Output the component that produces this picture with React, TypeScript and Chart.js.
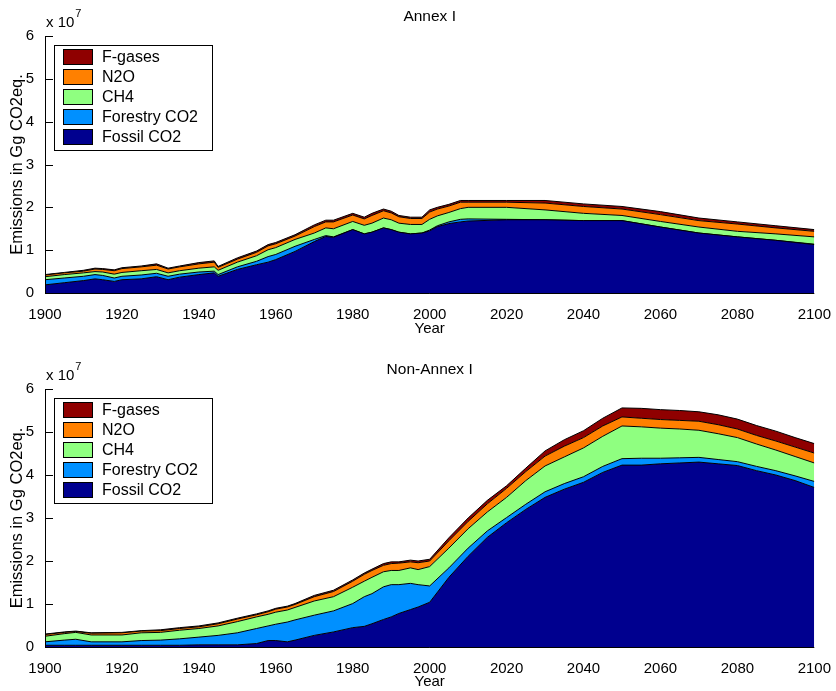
import React, { useEffect, useRef } from "react";
import { Chart, registerables } from "chart.js";

Chart.register(...registerables);

const FONT = '"Liberation Sans", Arial, Helvetica, sans-serif';
Chart.defaults.font.family = FONT;

// Values are given in units of 10^7 Gg CO2eq. (the axis multiplier)
const SCALE = 1e7;

const SERIES_LABELS = ["Fossil CO2", "Forestry CO2", "CH4", "N2O", "F-gases"];
const SERIES_COLORS = ["#00008F", "#0090FF", "#8FFF80", "#FF8000", "#8F0000"];

const X_TICKS = [1900, 1920, 1940, 1960, 1980, 2000, 2020, 2040, 2060, 2080, 2100];
const Y_TICKS = [0, 1, 2, 3, 4, 5, 6];

// ---- Annex I ----
const ANNEX_YEARS = [
  1900, 1905, 1910, 1913, 1915, 1918, 1920, 1925, 1929, 1932, 1935, 1940, 1944, 1945, 1950,
  1955, 1958, 1960, 1965, 1970, 1973, 1975, 1980, 1983, 1985, 1988, 1990, 1992, 1995, 1998,
  2000, 2002, 2005, 2008, 2010, 2020, 2030, 2040, 2050, 2060, 2070, 2080, 2090, 2100,
];
const ANNEX_FOSSIL = [
  0.19, 0.24, 0.29, 0.33, 0.31, 0.27, 0.31, 0.33, 0.38, 0.31, 0.37, 0.43, 0.47, 0.39, 0.55,
  0.66, 0.72, 0.78, 0.97, 1.2, 1.32, 1.3, 1.48, 1.38, 1.42, 1.52, 1.48, 1.42, 1.38, 1.4,
  1.45, 1.55, 1.62, 1.66, 1.68, 1.71, 1.71, 1.69, 1.69, 1.54, 1.4, 1.31, 1.23, 1.13,
];
const ANNEX_FORESTRY = [
  0.12, 0.11, 0.1, 0.1, 0.1, 0.08, 0.08, 0.09, 0.08, 0.08, 0.07, 0.06, 0.04, 0.04, 0.06,
  0.08, 0.13, 0.12, 0.12, 0.05, 0.02, 0.01, 0, 0, 0, 0, 0, 0, 0, 0,
  0.02, 0.02, 0.04, 0.06, 0.05, 0.01, 0, 0, 0, 0, 0, 0, 0, 0.01,
];
const ANNEX_CH4 = [
  0.07, 0.08, 0.08, 0.07, 0.08, 0.09, 0.09, 0.1, 0.09, 0.08, 0.08, 0.09, 0.1, 0.1, 0.11,
  0.13, 0.16, 0.16, 0.16, 0.15, 0.18, 0.19, 0.19, 0.2, 0.21, 0.23, 0.23, 0.21, 0.22, 0.2,
  0.25, 0.23, 0.22, 0.25, 0.27, 0.28, 0.23, 0.17, 0.12, 0.13, 0.14, 0.13, 0.15, 0.17,
];
const ANNEX_N2O = [
  0.04, 0.04, 0.04, 0.06, 0.06, 0.08, 0.09, 0.09, 0.1, 0.09, 0.09, 0.1, 0.11, 0.07, 0.07,
  0.08, 0.09, 0.09, 0.08, 0.15, 0.14, 0.16, 0.15, 0.15, 0.18, 0.17, 0.16, 0.15, 0.14, 0.14,
  0.17, 0.16, 0.15, 0.15, 0.12, 0.12, 0.16, 0.16, 0.15, 0.16, 0.15, 0.17, 0.14, 0.13,
];
const ANNEX_FGAS = [
  0.01, 0.01, 0.02, 0.02, 0.02, 0.02, 0.02, 0.02, 0.03, 0.02, 0.02, 0.03, 0.03, 0.02, 0.03,
  0.03, 0.03, 0.03, 0.03, 0.04, 0.04, 0.04, 0.04, 0.04, 0.05, 0.04, 0.04, 0.03, 0.03, 0.03,
  0.05, 0.04, 0.04, 0.04, 0.04, 0.04, 0.06, 0.06, 0.06, 0.07, 0.06, 0.05, 0.05, 0.04,
];

// ---- Non-Annex I ----
const NON_ANNEX_YEARS = [
  1900, 1905, 1908, 1912, 1920, 1925, 1930, 1935, 1940, 1945, 1950, 1955, 1958, 1960, 1963,
  1965, 1970, 1975, 1980, 1983, 1985, 1988, 1990, 1992, 1995, 1997, 2000, 2005, 2010, 2015,
  2020, 2025, 2030, 2035, 2040, 2045, 2050, 2055, 2060, 2065, 2070, 2075, 2080, 2085, 2090,
  2095, 2100,
];
const NON_ANNEX_FOSSIL = [
  0.04, 0.04, 0.04, 0.04, 0.04, 0.04, 0.04, 0.04, 0.05, 0.05, 0.05, 0.08, 0.15, 0.15, 0.12,
  0.16, 0.27, 0.35, 0.45, 0.48, 0.54, 0.64, 0.7, 0.78, 0.87, 0.93, 1.04, 1.62, 2.11, 2.55,
  2.89, 3.2, 3.48, 3.67, 3.83, 4.06, 4.23, 4.23, 4.26, 4.28, 4.3, 4.26, 4.22, 4.1, 4.0,
  3.87, 3.71,
];
const NON_ANNEX_FORESTRY = [
  0.08, 0.12, 0.14, 0.08, 0.08, 0.11, 0.12, 0.15, 0.18, 0.22, 0.28, 0.35, 0.34, 0.38, 0.46,
  0.47, 0.47, 0.49, 0.56, 0.69, 0.7, 0.76, 0.75, 0.67, 0.61, 0.52, 0.38, 0.22, 0.19, 0.15,
  0.12, 0.12, 0.13, 0.13, 0.13, 0.14, 0.15, 0.16, 0.13, 0.12, 0.11, 0.1, 0.09, 0.1, 0.1,
  0.11, 0.14,
];
const NON_ANNEX_CH4 = [
  0.13, 0.15, 0.16, 0.16, 0.16, 0.18, 0.18, 0.2, 0.2, 0.22, 0.26, 0.27, 0.27, 0.28, 0.28,
  0.29, 0.33, 0.33, 0.38, 0.36, 0.38, 0.35, 0.33, 0.33, 0.36, 0.35, 0.45, 0.46, 0.45, 0.44,
  0.47, 0.55, 0.6, 0.62, 0.67, 0.7, 0.76, 0.73, 0.7, 0.67, 0.63, 0.6, 0.56, 0.52, 0.48,
  0.45, 0.43,
];
const NON_ANNEX_N2O = [
  0.04, 0.03, 0.02, 0.04, 0.05, 0.04, 0.04, 0.04, 0.04, 0.05, 0.06, 0.05, 0.06, 0.07, 0.07,
  0.07, 0.1, 0.12, 0.14, 0.16, 0.16, 0.15, 0.16, 0.17, 0.14, 0.16, 0.13, 0.17, 0.17, 0.19,
  0.21, 0.21, 0.23, 0.25, 0.24, 0.24, 0.21, 0.2, 0.2, 0.2, 0.21, 0.21, 0.2, 0.2, 0.21,
  0.22, 0.23,
];
const NON_ANNEX_FGAS = [
  0.01, 0.01, 0.01, 0.01, 0.01, 0.01, 0.02, 0.02, 0.02, 0.02, 0.02, 0.02, 0.02, 0.02, 0.02,
  0.02, 0.03, 0.03, 0.03, 0.03, 0.03, 0.04, 0.04, 0.03, 0.04, 0.04, 0.04, 0.07, 0.08, 0.08,
  0.06, 0.08, 0.12, 0.15, 0.16, 0.18, 0.21, 0.23, 0.23, 0.23, 0.22, 0.23, 0.23, 0.23, 0.23,
  0.22, 0.22,
];

const CANVAS_W = 836;

// Axis titles, multiplier, inward ticks, axis lines and the boxed legend.
const decorations = {
  id: "decorations",
  beforeDatasetsDraw(chart: any) {
    const { ctx, chartArea, scales } = chart;
    const y = scales.y;
    ctx.save();
    ctx.strokeStyle = "#000";
    ctx.lineWidth = 1;
    y.ticks.forEach((t: any) => {
      const py = Math.round(y.getPixelForValue(t.value)) + 0.5;
      ctx.beginPath();
      ctx.moveTo(chartArea.left, py);
      ctx.lineTo(chartArea.left + 8, py);
      ctx.stroke();
    });
    ctx.restore();
  },
  afterDatasetsDraw(chart: any) {
    const { ctx, chartArea } = chart;
    ctx.save();
    ctx.strokeStyle = "#000";
    ctx.lineWidth = 1;
    ctx.beginPath();
    ctx.moveTo(chartArea.left + 0.5, chartArea.top);
    ctx.lineTo(chartArea.left + 0.5, chartArea.bottom + 0.5);
    ctx.lineTo(chartArea.right, chartArea.bottom + 0.5);
    ctx.stroke();
    ctx.restore();
  },
  afterDraw(chart: any, _args: any, opts: any) {
    const { ctx, chartArea } = chart;
    const cx = (chartArea.left + chartArea.right) / 2;
    const cy = (chartArea.top + chartArea.bottom) / 2;
    ctx.save();
    ctx.fillStyle = "#000";
    ctx.textBaseline = "middle";

    // title
    ctx.font = `15.5px ${FONT}`;
    ctx.textAlign = "center";
    ctx.fillText(opts.title, cx, 17);

    // x label
    ctx.font = `15px ${FONT}`;
    ctx.fillText("Year", cx, 329);

    // multiplier
    ctx.textAlign = "left";
    ctx.font = `15px ${FONT}`;
    const mult = "x 10";
    ctx.fillText(mult, 46, 23);
    const mw = ctx.measureText(mult).width;
    ctx.font = `11px ${FONT}`;
    ctx.fillText("7", 46 + mw + 1, 14);

    // y label
    ctx.save();
    ctx.translate(17, cy);
    ctx.rotate(-Math.PI / 2);
    ctx.textAlign = "center";
    ctx.font = `16.5px ${FONT}`;
    ctx.fillText("Emissions in Gg CO2eq.", 0, 0);
    ctx.restore();

    // legend, top series first
    const bx = 54.5, by = 45.5, bw = 158, bh = 105;
    ctx.fillStyle = "#fff";
    ctx.fillRect(bx, by, bw, bh);
    ctx.strokeStyle = "#000";
    ctx.lineWidth = 1;
    ctx.strokeRect(bx, by, bw, bh);
    const ds = chart.data.datasets;
    ctx.font = `16px ${FONT}`;
    ctx.textAlign = "left";
    for (let k = 0; k < ds.length; k++) {
      const d = ds[ds.length - 1 - k];
      const top = 49.5 + 20 * k;
      ctx.fillStyle = d.backgroundColor;
      ctx.fillRect(63.5, top, 29, 15);
      ctx.strokeStyle = "#000";
      ctx.strokeRect(63.5, top, 29, 15);
      ctx.fillStyle = "#000";
      ctx.fillText(d.label, 102, top + 8);
    }
    ctx.restore();
  },
};

type PanelProps = {
  title: string;
  years: number[];
  series: number[][];
  top: number;
  height: number;
};

function Panel({ title, years, series, top, height }: PanelProps) {
  const ref = useRef<HTMLCanvasElement | null>(null);

  useEffect(() => {
    if (!ref.current) return;
    const datasets = series.map((values, i) => ({
      label: SERIES_LABELS[i],
      data: years.map((yr, j) => ({ x: yr, y: values[j] * SCALE })),
      backgroundColor: SERIES_COLORS[i],
      borderColor: "#000",
      borderWidth: 1,
      pointRadius: 0,
      tension: 0,
      fill: i === 0 ? "origin" : "-1",
    }));
    const chart = new Chart(ref.current, {
      type: "line",
      data: { datasets },
      plugins: [decorations],
      options: {
        responsive: false,
        animation: false,
        events: [],
        layout: { padding: { left: 0, right: 18, top: 36, bottom: 0 } },
        plugins: {
          legend: { display: false },
          tooltip: { enabled: false },
          decorations: { title },
        } as any,
        scales: {
          x: {
            type: "linear",
            min: 1900,
            max: 2100,
            grid: { display: false },
            border: { display: false },
            afterBuildTicks: (s: any) => {
              s.ticks = X_TICKS.map((v) => ({ value: v }));
            },
            afterFit: (s: any) => {
              s.height = 44;
            },
            ticks: {
              padding: 5,
              color: "#000",
              font: { size: 15 },
              maxRotation: 0,
              autoSkip: false,
              callback: (v: any) => String(v),
            },
          },
          y: {
            stacked: true,
            min: 0,
            max: 6 * SCALE,
            grid: { display: false },
            border: { display: false },
            afterBuildTicks: (s: any) => {
              s.ticks = Y_TICKS.map((v) => ({ value: v * SCALE }));
            },
            afterFit: (s: any) => {
              s.width = 45;
            },
            ticks: {
              padding: 3,
              color: "#000",
              font: { size: 15 },
              callback: (v: any) => String(Math.round(Number(v) / SCALE)),
            },
          },
        },
      } as any,
    });
    return () => chart.destroy();
  }, [title, years, series]);

  return (
    <canvas
      ref={ref}
      width={CANVAS_W}
      height={height}
      style={{ position: "absolute", left: 0, top, width: CANVAS_W, height }}
    />
  );
}

export default function App() {
  return (
    <div
      style={{
        position: "absolute",
        left: 0,
        top: 0,
        width: CANVAS_W,
        height: 691,
        overflow: "hidden",
        background: "#fff",
      }}
    >
      <Panel
        title="Annex I"
        years={ANNEX_YEARS}
        series={[ANNEX_FOSSIL, ANNEX_FORESTRY, ANNEX_CH4, ANNEX_N2O, ANNEX_FGAS]}
        top={0}
        height={337}
      />
      <Panel
        title="Non-Annex I"
        years={NON_ANNEX_YEARS}
        series={[NON_ANNEX_FOSSIL, NON_ANNEX_FORESTRY, NON_ANNEX_CH4, NON_ANNEX_N2O, NON_ANNEX_FGAS]}
        top={353}
        height={338}
      />
    </div>
  );
}
